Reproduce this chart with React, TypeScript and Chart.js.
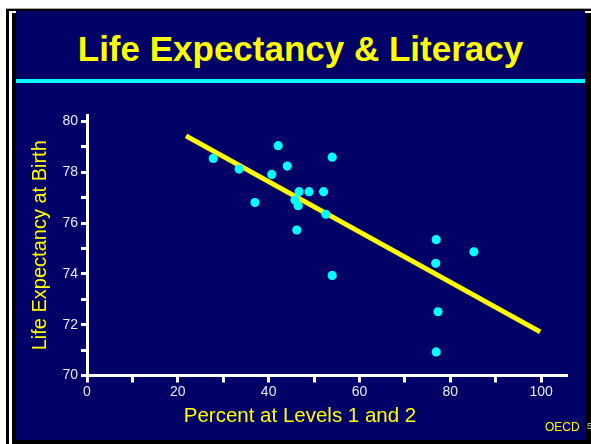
import React, { useEffect, useRef } from "react";
import { Chart, registerables } from "chart.js";

Chart.register(...registerables);

// Percent of adults at literacy Levels 1 and 2 (x) vs life expectancy at birth (y)
const percentLevels12 = [27.8, 33.5, 37.0, 40.7, 42.1, 44.1, 46.7, 48.9, 52.1, 45.8, 46.5, 52.6, 46.2, 54.0, 54.0, 76.9, 85.2, 76.8, 77.3, 76.9];
const lifeExpectancy = [78.55, 78.13, 76.81, 77.92, 79.05, 78.25, 77.24, 77.24, 77.24, 76.91, 76.69, 76.35, 75.73, 78.6, 73.94, 75.35, 74.87, 74.42, 72.51, 70.93];

// Fitted trend line end points
const trendX = [21.8, 99.8];
const trendY = [79.44, 71.72];

const xTicks = [0, 10, 20, 30, 40, 50, 60, 70, 80, 90, 100];
const yTicks = [70, 71, 72, 73, 74, 75, 76, 77, 78, 79, 80];

const TITLE = "Life Expectancy & Literacy";
const X_TITLE = "Percent at Levels 1 and 2";
const Y_TITLE = "Life Expectancy at Birth";

const FONT = '"Liberation Sans", Arial, sans-serif';

export default function App() {
  const ref = useRef<HTMLCanvasElement | null>(null);

  useEffect(() => {
    if (!ref.current) return;
    const xTitlePlugin = {
      id: "xTitle",
      afterDraw(chart: any) {
        const { ctx, chartArea } = chart;
        ctx.save();
        ctx.font = `20.5px ${FONT}`;
        ctx.fillStyle = "#ffff00";
        ctx.textAlign = "center";
        ctx.textBaseline = "alphabetic";
        ctx.fillText(X_TITLE, chartArea.left + 213, chartArea.bottom + 46.5);
        ctx.restore();
      },
    };
    const chart = new Chart(ref.current, {
      type: "scatter",
      data: {
        datasets: [
          {
            type: "scatter",
            data: percentLevels12.map((x, i) => ({ x, y: lifeExpectancy[i] })),
            backgroundColor: "#00ffff",
            borderWidth: 0,
            pointRadius: 4.6,
            order: 1,
          },
          {
            type: "line",
            data: trendX.map((x, i) => ({ x, y: trendY[i] })),
            borderColor: "#ffff00",
            borderWidth: 5,
            pointRadius: 0,
            fill: false,
            order: 2,
          } as any,
        ],
      },
      options: {
        responsive: false,
        animation: false,
        layout: { padding: { left: 24, top: 115, right: 24, bottom: 38.5 } },
        plugins: {
          legend: { display: false },
          tooltip: { enabled: false },
        },
        scales: {
          x: {
            type: "linear",
            min: 0,
            max: 105.7,
            afterFit: (s: any) => {
              s.height = 30;
            },
            afterBuildTicks: (s: any) => {
              s.ticks = xTicks.map((v) => ({ value: v }));
            },
            ticks: {
              autoSkip: false,
              maxRotation: 0,
              padding: 1,
              color: "#e8e8f0",
              font: { family: FONT, size: 14 },
              callback: (v: any) => (Number(v) % 20 === 0 ? String(v) : ""),
            },
            grid: {
              display: true,
              drawOnChartArea: false,
              drawTicks: true,
              tickLength: 7,
              tickWidth: 3,
              tickColor: "#ffffff",
              color: "#ffffff",
            },
            border: { display: true, color: "#ffffff", width: 3 },
          },
          y: {
            type: "linear",
            min: 70,
            max: 80.26,
            afterFit: (s: any) => {
              s.width = 63;
            },
            afterBuildTicks: (s: any) => {
              s.ticks = yTicks.map((v) => ({ value: v }));
            },
            ticks: {
              autoSkip: false,
              padding: 3,
              color: "#e8e8f0",
              font: { family: FONT, size: 14 },
              callback: (v: any) => (Number(v) % 2 === 0 ? String(v) : ""),
            },
            grid: {
              display: true,
              drawOnChartArea: false,
              drawTicks: true,
              tickLength: 6,
              tickWidth: 3,
              tickColor: "#ffffff",
              color: "#ffffff",
            },
            border: { display: true, color: "#ffffff", width: 3 },
            title: {
              display: true,
              text: Y_TITLE,
              color: "#ffff00",
              font: { family: FONT, size: 20 },
              padding: { top: 4, bottom: 4 },
            },
          },
        },
      },
      plugins: [xTitlePlugin],
    });
    return () => chart.destroy();
  }, []);

  return (
    <div
      style={{
        position: "absolute",
        left: 0,
        top: 0,
        width: 591,
        height: 444,
        background: "#ffffff",
        overflow: "hidden",
        fontFamily: FONT,
      }}
    >
      <div style={{ position: "absolute", left: 6, top: 8, width: 585, height: 1, background: "#a8a8a8" }} />
      <div style={{ position: "absolute", left: 6, top: 9, width: 585, height: 435, background: "#000000" }} />
      <div style={{ position: "absolute", left: 9, top: 11, width: 3, height: 433, background: "#ffffff" }} />
      <div style={{ position: "absolute", left: 9, top: 11, width: 7, height: 2, background: "#ffffff" }} />
      <div style={{ position: "absolute", left: 585, top: 11, width: 6, height: 2, background: "#ffffff" }} />
      <div style={{ position: "absolute", left: 16, top: 11, width: 569, height: 429, background: "#000066" }} />
      <div
        style={{
          position: "absolute",
          left: 16,
          top: 31,
          width: 569,
          textAlign: "center",
          color: "#ffff00",
          fontWeight: "bold",
          fontSize: 35,
          lineHeight: "35px",
          whiteSpace: "nowrap",
        }}
      >
        {TITLE}
      </div>
      <div style={{ position: "absolute", left: 16, top: 79, width: 569, height: 4, background: "#00ffff" }} />
      <canvas
        ref={ref}
        width={591}
        height={444}
        style={{ position: "absolute", left: 0, top: 0, width: 591, height: 444 }}
      />
      <div
        style={{
          position: "absolute",
          left: 545,
          top: 421,
          color: "#ffff00",
          fontSize: 12,
          lineHeight: "12px",
          whiteSpace: "nowrap",
        }}
      >
        OECD
      </div>
      <div
        style={{
          position: "absolute",
          left: 587,
          top: 422,
          color: "#d0d0d0",
          fontSize: 9,
          lineHeight: "9px",
        }}
      >
        5
      </div>
    </div>
  );
}
